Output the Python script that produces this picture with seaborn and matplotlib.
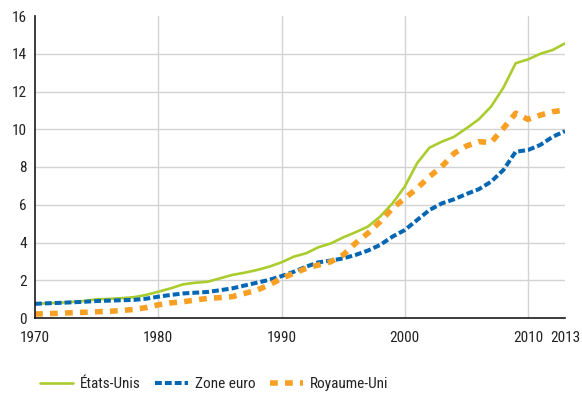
import numpy as np
import pandas as pd
import matplotlib
matplotlib.use("Agg")
import matplotlib.pyplot as plt
import seaborn as sns

years = list(range(1970, 2014))
etats_unis = [0.75, 0.78, 0.81, 0.85, 0.90, 0.99, 1.01, 1.05, 1.10, 1.22,
              1.39, 1.57, 1.78, 1.87, 1.92, 2.10, 2.28, 2.40, 2.54, 2.72,
              2.95, 3.25, 3.43, 3.75, 3.95, 4.27, 4.54, 4.84, 5.37, 6.07,
              6.96, 8.20, 9.02, 9.34, 9.60, 10.05, 10.52, 11.20, 12.20, 13.50,
              13.70, 14.00, 14.20, 14.55]
zone_euro = [0.75, 0.78, 0.80, 0.83, 0.86, 0.90, 0.92, 0.94, 0.96, 1.02,
             1.13, 1.22, 1.30, 1.34, 1.38, 1.47, 1.57, 1.72, 1.87, 2.02,
             2.22, 2.45, 2.72, 2.95, 3.04, 3.16, 3.34, 3.57, 3.87, 4.31,
             4.66, 5.19, 5.72, 6.07, 6.29, 6.57, 6.82, 7.22, 7.84, 8.81,
             8.90, 9.17, 9.60, 9.90]
royaume_uni = [0.21, 0.23, 0.25, 0.28, 0.30, 0.33, 0.35, 0.40, 0.45, 0.55,
               0.70, 0.80, 0.86, 0.95, 1.04, 1.08, 1.13, 1.30, 1.48, 1.75,
               2.10, 2.37, 2.63, 2.81, 2.98, 3.34, 3.96, 4.49, 5.10, 5.81,
               6.34, 6.87, 7.49, 8.02, 8.72, 9.11, 9.34, 9.30, 10.05, 10.85,
               10.52, 10.75, 10.93, 11.02]
series_names = ["États-Unis", "Zone euro", "Royaume-Uni"]
xtick_values = [1970, 1980, 1990, 2000, 2010, 2013]
ytick_values = [0, 2, 4, 6, 8, 10, 12, 14, 16]

df = pd.DataFrame({"année": years,
                   series_names[0]: etats_unis,
                   series_names[1]: zone_euro,
                   series_names[2]: royaume_uni})

sns.set_style("white")
plt.rcParams['font.family'] = ['Roboto Condensed', 'DejaVu Sans']

FS = 11
fig = plt.figure(figsize=(5.82, 3.98), dpi=100)
ax = fig.add_axes([35/582, 1-318/398, (565-35)/582, (318-16)/398])

styles = {
    "États-Unis": dict(color="#aacc2e", lw=1.9, dashes=None),
    "Zone euro": dict(color="#0567b4", lw=2.9, dashes=(1.7, 0.75)),
    "Royaume-Uni": dict(color="#f7a024", lw=4.0, dashes=(1.4, 1.3)),
}
handles = []
for name in series_names:
    st = styles[name]
    sns.lineplot(data=df, x="année", y=name, ax=ax, color=st["color"],
                 linewidth=st["lw"], label=name, legend=False)
    line = ax.lines[-1]
    if st["dashes"] is not None:
        line.set_dashes(st["dashes"])
    handles.append(line)

ax.set_xlim(1970, 2013)
ax.set_ylim(0, 16)
ax.set_xticks(xtick_values)
ax.set_yticks(ytick_values)
ax.set_xlabel("")
ax.set_ylabel("")
ax.tick_params(axis="both", length=0, labelsize=FS, colors="#222222")
ax.tick_params(axis="x", pad=9)
ax.tick_params(axis="y", pad=6)

ax.grid(True, color="#d3d3d3", linewidth=1.0)
ax.set_axisbelow(True)
for gl, v in zip(ax.yaxis.get_gridlines(), ytick_values):
    if v in (0, 16):
        gl.set_visible(False)
for gl, v in zip(ax.xaxis.get_gridlines(), xtick_values):
    if v in (1970, 2013):
        gl.set_visible(False)

for s in ["top", "right"]:
    ax.spines[s].set_visible(False)
for s in ["left", "bottom"]:
    ax.spines[s].set_color("#1a1a1a")
    ax.spines[s].set_linewidth(1.2)

leg = fig.legend(handles=handles, labels=series_names, loc="center left",
                 bbox_to_anchor=(26/582, 1-384/398), ncol=3, frameon=False,
                 fontsize=FS, handlelength=2.2, columnspacing=0.9,
                 handletextpad=0.45)
for t in leg.get_texts():
    t.set_color("#222222")

fig.savefig("out.png", dpi=100)
